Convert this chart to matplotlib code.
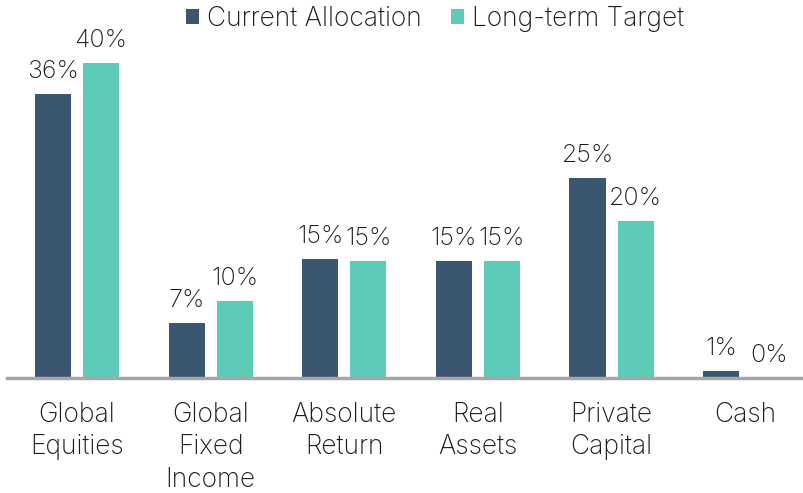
import matplotlib
matplotlib.use("Agg")
import matplotlib.pyplot as plt
import numpy as np

categories = ["Global\nEquities", "Global\nFixed\nIncome", "Absolute\nReturn", "Real\nAssets", "Private\nCapital", "Cash"]
current = [36.1, 7.0, 15.1, 14.8, 25.4, 0.9]
target = [40.0, 9.8, 14.8, 14.8, 19.9, 0.0]
series_names = ["Current Allocation", "Long-term Target"]
colors = ["#3B5670", "#5ECBB8"]

plt.rcParams['font.family'] = ['Inter', 'DejaVu Sans']
plt.rcParams['font.weight'] = 'light'
FS = 19
VFS = 18
TC = "#1A1A1A"

fig = plt.figure(figsize=(8.04, 4.93), dpi=100)
ax = fig.add_axes([7/804, (493-378)/493, 797/804, 378/493])

x = np.arange(len(categories))
w = 0.27
off = 0.18
b1 = ax.bar(x - off, current, w, color=colors[0], label=series_names[0])
b2 = ax.bar(x + off, target, w, color=colors[1], label=series_names[1])

for bars, vals in ((b1, current), (b2, target)):
    for r, v in zip(bars, vals):
        ax.annotate(f"{v:.0f}%", (r.get_x() + r.get_width()/2, v),
                    xytext=(0, 8), textcoords="offset points",
                    ha="center", va="bottom", fontsize=VFS, color=TC, fontweight='light')

ax.set_xlim(-0.524, 5.44)
ax.set_ylim(0, 48)
ax.set_xticks(x)
ax.set_xticklabels(categories, fontsize=FS, color=TC, linespacing=1.33, fontweight='light')
ax.tick_params(axis='x', length=0, pad=17)
ax.set_yticks([])
for s in ["top", "right", "left"]:
    ax.spines[s].set_visible(False)
ax.spines["bottom"].set_color("#A6A6A6")
ax.spines["bottom"].set_linewidth(2.5)

leg = fig.legend(handles=[b1, b2], labels=series_names, loc="center", bbox_to_anchor=(0.541, 1 - 19/493),
                 ncol=2, frameon=False, prop={'size': FS, 'weight': 'light'},
                 handlelength=0.5, handleheight=0.5,
                 handletextpad=0.3, columnspacing=1.1)
for t in leg.get_texts():
    t.set_color(TC)

fig.savefig("out.png", dpi=100)
